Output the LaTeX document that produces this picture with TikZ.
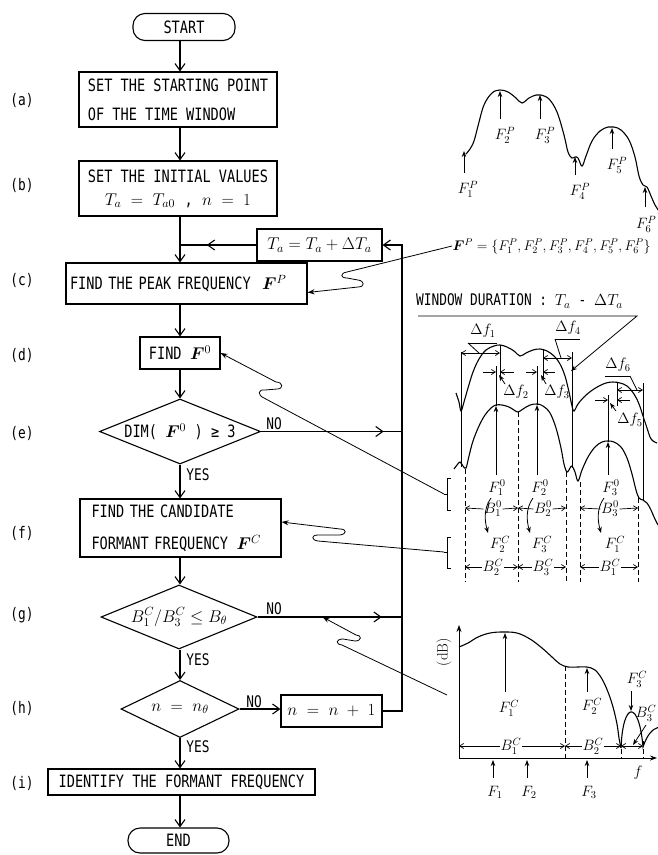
\documentclass[tikz,border=0pt]{standalone}
\usepackage{fix-cm}
\usepackage{amsmath}
\usepackage{bm}
\usepackage{fontspec}
\newfontfamily\twfont{DejaVu Sans Mono}[FakeStretch=0.8]
\usetikzlibrary{arrows.meta,shapes.geometric,decorations.markings,calc}
\tikzset{
  box/.style={draw, line width=1.1pt, inner sep=0pt, font=\twfont\fontsize{17}{20}\selectfont},
  term/.style={box, rounded corners=12pt},
  dec/.style={draw, line width=1.1pt, diamond, inner sep=0pt, font=\twfont\fontsize{17}{20}\selectfont},
  lab/.style={font=\twfont\fontsize{16}{18}\selectfont, inner sep=0pt},
  flow/.style={line width=1.1pt, -{Straight Barb[length=7pt,width=10pt]}},
  fline/.style={line width=1.1pt},
  midarrow/.style={postaction={decorate,decoration={markings,mark=at position #1 with {\arrow{Straight Barb[length=7pt,width=10pt]}}}}},
  thinl/.style={line width=0.8pt},
  ptr/.style={line width=0.8pt,-{Stealth[length=6pt,width=4.5pt]}},
  sbarb/.style={line width=0.7pt,-{Straight Barb[length=4pt,width=5pt]}},
  dimarr/.style={line width=0.7pt,{Straight Barb[length=4pt,width=5pt]}-{Straight Barb[length=4pt,width=5pt]}},
  ml/.style={font=\fontsize{15}{17}\selectfont, inner sep=0.5pt},
  dsh/.style={line width=0.9pt, dash pattern=on 5pt off 3pt},
  spec/.style={line width=1.1pt},
}
\begin{document}
\begin{tikzpicture}[x=1pt,y=-1pt]
\useasboundingbox (0,0) rectangle (657,855);
\coordinate (ax) at (180,0);
\coordinate (R) at (402,0);

% ---------------- flowchart nodes ----------------
\node[term, minimum width=102pt, minimum height=27pt] (start) at (184,27) {START};
\node[box, minimum width=198pt, minimum height=55pt, align=left] (a) at (178,99.5) {SET THE STARTING POINT\\[9pt]OF THE TIME WINDOW};
\node[box, minimum width=198pt, minimum height=55pt, align=center] (b) at (178,188.5) {SET THE INITIAL VALUES\\[3pt]$T_a\;=\;T_{a0}$\;\;,\;\;$n\;=\;1$};
\node[box, minimum width=125pt, minimum height=32pt] (ta) at (319.5,245) {$T_a = T_a + \Delta T_a$};
\node[box, minimum width=241pt, minimum height=41pt, align=left, text width=233pt] (c) at (186.5,283.5) {FIND THE PEAK FREQUENCY\enspace\,$\bm{F}^P$};
\node[box, minimum width=80pt, minimum height=32pt] (d) at (180,353) {FIND\enspace$\bm{F}^0$};
\node[dec, minimum width=161pt, minimum height=65pt, aspect=2.5] (e) at (180,431.5) {DIM( $\bm{F}^0$\enspace) ≥ 3};
\node[box, minimum width=201pt, minimum height=58pt, align=left, text width=178pt] (f) at (180.5,528) {FIND THE CANDIDATE\\[12pt]FORMANT FREQUENCY\enspace $\bm{F}^C$};
\node[dec, minimum width=156pt, minimum height=64pt, aspect=2.4] (g) at (179,617) {$B^C_1/B^C_3 \le B_\theta$};
\node[dec, minimum width=118pt, minimum height=57pt, aspect=2.1] (h) at (180,709) {$n\;=\;n_\theta$};
\node[box, minimum width=101pt, minimum height=32pt] (nb) at (331.5,711) {$n\;=\;n\;+\;1$};
\node[box, minimum width=267pt, minimum height=26pt] (i) at (181.5,782) {IDENTIFY THE FORMANT FREQUENCY};
\node[term, minimum width=101pt, minimum height=25pt] (end) at (178.5,840.5) {END};

% step labels
\node[lab] (la) at (22,100) {(a)};
\node[lab] (lb) at (22,185) {(b)};
\node[lab] (lc) at (22,280) {(c)};
\node[lab] (ld) at (22,355) {(d)};
\node[lab] (le) at (22,433) {(e)};
\node[lab] (lf) at (22,533) {(f)};
\node[lab] (lg) at (22,615) {(g)};
\node[lab] (lh) at (22,708) {(h)};
\node[lab] (li) at (22,783) {(i)};

% yes / no
\node[lab] (noe) at (274,424) {NO};
\node[lab] (yese) at (198,475) {YES};
\node[lab] (nog) at (274,609) {NO};
\node[lab] (yesg) at (198,660) {YES};
\node[lab] (noh) at (254,702) {NO};
\node[lab] (yesh) at (198,747) {YES};

% flow arrows
\draw[flow] (start.south -| ax) -- (a.north -| ax);
\draw[flow] (a.south -| ax) -- (b.north -| ax);
\draw[flow] (b.south -| ax) -- (c.north -| ax);
\coordinate (jn) at (ta.west -| ax);
\draw[fline, midarrow=0.65] (ta.west) -- (jn);
\draw[flow] (c.south -| ax) -- (d.north -| ax);
\draw[flow] (d.south -| ax) -- (e.north -| ax);
\draw[flow] (e.south -| ax) -- (f.north -| ax);
\draw[flow] (f.south -| ax) -- (g.north -| ax);
\draw[flow] (g.south -| ax) -- (h.north -| ax);
\draw[flow] (h.south -| ax) -- (i.north -| ax);
\draw[flow] (i.south -| ax) -- (end.north -| ax);
\draw[fline, midarrow=0.87] (e.east) -- (e.east -| R);
\draw[fline, midarrow=0.86] (g.east) -- (g.east -| R);
\draw[flow] (h.east) -- (h.east -| nb.west);
\draw[flow] (nb.east) -- (nb.east -| R) -- (ta.east -| R) -- (ta.east);

% ---------------- top spectrum F^P ----------------
\draw[spec] plot[smooth, tension=0.6] coordinates {(466,154) (470,149) (474,141) (478,126) (484,105) (492,93) (500,90) (508,92) (516,98) (522,103) (529,98) (536,95) (541,95) (549,99) (557,112) (564,135) (568,152) (572,158) (575,157) (578,158) (582,166) (586,156) (592,141) (600,131) (608,127) (614,127) (621,130) (629,140) (635,157) (639,176) (643,185) (647,187) (651,196) (655,205) (659,211)};
\draw[ptr] (464,173) -- (464,151);
\draw[ptr] (500,119) -- (500,91);
\draw[ptr] (540,119) -- (540,95);
\draw[ptr] (575,175) -- (575,157);
\draw[ptr] (612,149) -- (612,128);
\draw[ptr] (645,207) -- (645,187);
\node[ml] (fp1) at (468,189) {$F^P_1$};
\node[ml] (fp2) at (505,135) {$F^P_2$};
\node[ml] (fp3) at (545,135) {$F^P_3$};
\node[ml] (fp4) at (580,191) {$F^P_4$};
\node[ml] (fp5) at (617,165) {$F^P_5$};
\node[ml, anchor=east] (fp6) at (657,224) {$F^P_6$};
\node[ml, anchor=west, font=\fontsize{14}{16}\selectfont] (fpset) at (452,246) {$\bm{F}^P = \{F^P_1,F^P_2,F^P_3,F^P_4,F^P_5,F^P_6\}$};

% wavy leader to (c)
\draw[thinl, -{Stealth[length=7pt,width=5pt]}] (fpset.west) -- (347,272) .. controls (340,273) and (340,278) .. (347,278) -- (358,280) .. controls (365,281) and (365,287) .. (358,287) -- ([yshift=-9pt]c.east);

% ---------------- window spectra ----------------
\node[lab, anchor=west] (win) at (416,301) {WINDOW DURATION : $T_a$\enspace-\enspace$\Delta T_a$};
\coordinate (wu1) at (418,316);
\coordinate (wu2) at (637,316);
\draw[ptr] (wu1) -- (wu2) -- (571,371);

% upper curve
\draw[spec] plot[smooth, tension=0.6] coordinates {(456,393) (459,402) (461,411) (464,402) (468,388) (473,372) (479,359) (486,350) (494,346) (500,345) (507,347) (514,351) (520,356) (526,353) (533,350) (540,349) (547,351) (554,356) (560,364) (565,376) (569,392) (572,406) (574,411) (578,404) (584,397) (591,391) (599,386) (606,383) (613,382) (620,383) (627,386) (634,394) (639,404) (643,416) (647,428) (650,437) (653,441) (657,443)};
% lower curve
\draw[spec] plot[smooth, tension=0.6] coordinates {(454,469) (457,465) (460,462) (463,466) (466,468) (469,456) (473,441) (479,426) (485,415) (491,408) (496,405) (502,405) (509,407) (514,410) (518,412) (523,409) (530,405) (537,404) (543,406) (550,413) (556,428) (561,448) (564,464) (567,472) (570,468) (572,466) (575,472) (578,481) (582,470) (588,457) (595,447) (602,442) (608,441) (614,442) (621,447) (627,458) (632,474) (636,490) (639,498) (643,500) (647,503) (651,510) (654,517) (658,525)};

% vertical guide lines
\draw[thinl] (461,352) -- (461,467);
\draw[thinl] (572,352) -- (572,468);
\draw[thinl] (643,383) -- (643,500);
\draw[thinl] (500,345) -- (500,378);
\draw[thinl] (543,349) -- (543,378);
\draw[thinl] (617,382) -- (617,406);
\draw[thinl] (496,406) -- (496,366);
\draw[thinl] (537,405) -- (537,366);
\draw[thinl] (608,442) -- (608,395);
\draw[ptr] (496,475) -- (496,406);
\draw[ptr] (537,475) -- (537,405);
\draw[ptr] (608,475) -- (608,442);

% delta f marks
\draw[dimarr] (461,353) -- (500,353);
\node[ml] (df1) at (483,331) {$\Delta f_1$};
\draw[thinl] (468,343) -- (497,343);
\draw[thinl] (468,343) -- (479,353);
\draw[sbarb] (483,372) -- (496,372);
\draw[sbarb] (514,372) -- (500,372);
\node[ml] (df2) at (516,392) {$\Delta f_2$};
\draw[ptr] (505,384) -- (499,375);
\draw[sbarb] (526,372) -- (537,372);
\draw[sbarb] (555,372) -- (543,372);
\node[ml] (df3) at (557,392) {$\Delta f_3$};
\draw[ptr] (546,384) -- (541,375);
\draw[dimarr] (543,358) -- (572,358);
\node[ml] (df4) at (568,328) {$\Delta f_4$};
\draw[thinl] (555,339) -- (580,339);
\draw[thinl] (555,339) -- (561,358);
\draw[sbarb] (595,400) -- (608,400);
\draw[sbarb] (630,400) -- (617,400);
\node[ml] (df5) at (630,420) {$\Delta f_5$};
\draw[ptr] (616,411) -- (610,403);
\draw[dimarr] (617,390) -- (643,390);
\node[ml] (df6) at (618,365) {$\Delta f_6$};
\draw[thinl] (605,376) -- (630,376);
\draw[thinl] (630,376) -- (637,390);

% dashed boundaries
\draw[dsh] (465,469) -- (465,582);
\draw[dsh] (518,412) -- (518,582);
\draw[dsh] (566,472) -- (566,582);
\draw[dsh] (580,482) -- (580,582);
\draw[dsh] (638,498) -- (638,582);

% F0 labels and B0
\node[ml] (f01) at (497,488) {$F^0_1$};
\node[ml] (f02) at (540,488) {$F^0_2$};
\node[ml] (f03) at (611,488) {$F^0_3$};
\node[ml] (b01) at (493,509) {$B^0_1$};
\node[ml] (b02) at (543,509) {$B^0_2$};
\node[ml] (b03) at (610,509) {$B^0_3$};
\draw[sbarb] (b01.west) -- (465,508);
\draw[sbarb] (b01.east) -- (518,508);
\draw[sbarb] (b02.west) -- (518,508);
\draw[sbarb] (b02.east) -- (566,508);
\draw[sbarb] (b03.west) -- (580,508);
\draw[sbarb] (b03.east) -- (638,508);

% curved arrows F0 -> FC
\draw[ptr] (491,498) .. controls (483,509) and (485,522) .. (488,533);
\draw[ptr] (533,498) .. controls (525,509) and (527,522) .. (530,533);
\draw[ptr] (604,498) .. controls (596,509) and (598,522) .. (601,533);

% FC labels and BC
\node[ml] (fc2) at (500,544) {$F^C_2$};
\node[ml] (fc3) at (542,544) {$F^C_3$};
\node[ml] (fc1) at (615,544) {$F^C_1$};
\node[ml] (bc2) at (493,567) {$B^C_2$};
\node[ml] (bc3) at (543,567) {$B^C_3$};
\node[ml] (bc1) at (610,567) {$B^C_1$};
\draw[sbarb] (bc2.west) -- (465,567);
\draw[sbarb] (bc2.east) -- (518,567);
\draw[sbarb] (bc3.west) -- (518,567);
\draw[sbarb] (bc3.east) -- (566,567);
\draw[sbarb] (bc1.west) -- (580,567);
\draw[sbarb] (bc1.east) -- (638,567);

% brackets
\draw[thinl] (451,478) -- (447,478) -- (447,510) -- (451,510);
\draw[thinl] (447,494) -- (444,494);
\draw[thinl] (451,537) -- (447,537) -- (447,568) -- (451,568);
\draw[thinl] (447,552) -- (444,552);
\coordinate (b1) at (444,494);
\coordinate (b2) at (444,552);

% wavy leaders to (d) and (f)
\draw[thinl, -{Stealth[length=7pt,width=5pt]}] (b1) -- (264,398) .. controls (257,395) and (258,389) .. (265,390) -- (277,389) .. controls (284,389) and (283,382) .. (276,382) -- (d.east);
\draw[thinl, -{Stealth[length=7pt,width=5pt]}] (b2) -- (318,541) .. controls (311,540) and (311,535) .. (318,535) -- (340,535) .. controls (347,534) and (347,529) .. (340,529) -- ([yshift=6pt]f.east);

% ---------------- bottom chart ----------------
\draw[thinl, -{Stealth[length=7pt,width=5pt]}] (459,758) -- (459,625);
\draw[thinl, -{Stealth[length=7pt,width=5pt]}] (459,758) -- (657,758);
\node[ml, rotate=90] (db) at (444,652) {(dB)};
\draw[spec] plot[smooth, tension=0.6] coordinates {(459,647) (468,643) (478,637) (490,633) (503,632) (517,633) (530,639) (542,648) (552,657) (560,664) (568,667) (578,667) (587,667) (595,670) (602,679) (608,692) (613,707) (617,724) (619,738) (621,748)};
\draw[spec] (621,748) .. controls (623,700) and (639,700) .. (643,747) .. controls (647,735) and (652,729) .. (659,727);
\draw[dsh] (565,666) -- (565,758);
\draw[dsh] (621,741) -- (621,758);
\draw[dsh] (643,741) -- (643,758);
\node[ml] (cf1) at (509,708) {$F^C_1$};
\draw[ptr] (505,692) -- (505,633);
\node[ml] (cf2) at (592,706) {$F^C_2$};
\draw[ptr] (587,692) -- (587,668);
\node[ml] (cf3) at (637,679) {$F^C_3$};
\draw[ptr] (631,691) -- (631,711);
\node[ml, anchor=east] (cb3) at (657,713) {$B^C_3$};
\draw[ptr] (646,725) -- (633,745);
\node[ml] (cb1) at (511,746) {$B^C_1$};
\draw[sbarb] (cb1.west) -- (459,746);
\draw[sbarb] (cb1.east) -- (565,746);
\node[ml] (cb2) at (593,746) {$B^C_2$};
\draw[sbarb] (cb2.west) -- (565,746);
\draw[sbarb] (cb2.east) -- (621,746);
\draw[dimarr] (621,746) -- (643,746);
\draw[ptr] (493,778) -- (493,760);
\draw[ptr] (527,778) -- (527,760);
\draw[ptr] (587,778) -- (587,760);
\node[ml] (F1) at (495,792) {$F_1$};
\node[ml] (F2) at (529,792) {$F_2$};
\node[ml] (F3) at (589,792) {$F_3$};
\node[ml] (fax) at (638,773) {$f$};
\coordinate (chl) at (447,695);
\coordinate (gtip) at ($(g.east)!0.45!(g.east -| R)$);
\draw[thinl, -{Stealth[length=7pt,width=5pt]}] (chl) -- (342,645) .. controls (335,644) and (336,639) .. (343,639) -- (355,641) .. controls (362,641) and (362,635) .. (356,635) -- (gtip);
\end{tikzpicture}
\end{document}
